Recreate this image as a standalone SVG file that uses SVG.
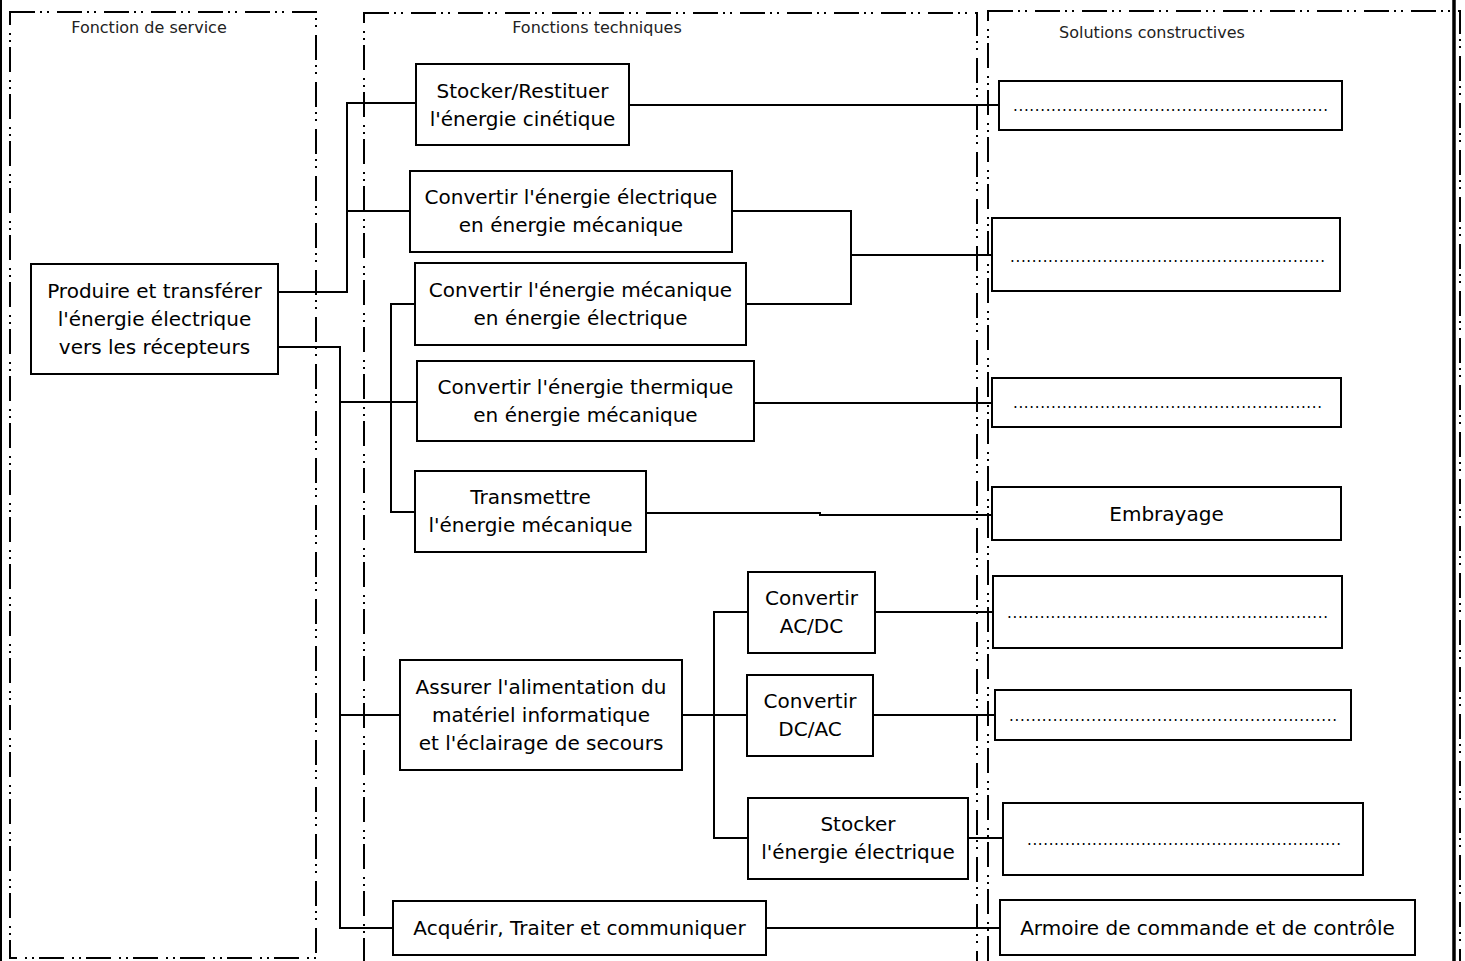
<svg xmlns="http://www.w3.org/2000/svg" width="1465" height="961" viewBox="0 0 1465 961">
  <style>
    .frame { fill: none; stroke: #000; stroke-width: 2; stroke-dasharray: 25 5 2 5 2 8; }
    .box { fill: #fff; stroke: #000; stroke-width: 2; }
    .wire { fill: none; stroke: #000; stroke-width: 2; }
    .lbl { font-family: "DejaVu Sans", Verdana, sans-serif; font-size: 20px; fill: #000; text-anchor: middle; dominant-baseline: central; }
    .head { font-family: "DejaVu Sans", Verdana, sans-serif; font-size: 16px; fill: #222; text-anchor: middle; }
    .dots { font-family: "DejaVu Sans", Verdana, sans-serif; font-size: 15px; fill: #000; }
  </style>
  <rect x="0" y="0" width="1465" height="961" fill="#fff"/>

  <!-- column frames -->
  <g id="frames">
    <rect class="frame" x="10" y="12" width="306" height="946"/>
    <rect class="frame" x="364" y="13" width="613" height="990"/>
    <rect class="frame" x="988" y="11" width="472" height="990"/>
    <line x1="1" y1="0" x2="1" y2="961" stroke="#000" stroke-width="2"/>
    <line x1="1454" y1="0" x2="1454" y2="961" stroke="#000" stroke-width="3.5"/>
    <text class="head" x="149" y="33">Fonction de service</text>
    <text class="head" x="597" y="33">Fonctions techniques</text>
    <text class="head" x="1152" y="38">Solutions constructives</text>
  </g>

  <!-- connectors -->
  <g id="connectors">
    <polyline class="wire" points="278,292 347,292 347,103 416,103"/>
    <line class="wire" x1="347" y1="211" x2="410" y2="211"/>
    <polyline class="wire" points="278,347 340,347 340,928 393,928"/>
    <line class="wire" x1="340" y1="402" x2="417" y2="402"/>
    <polyline class="wire" points="415,304 391,304 391,512 415,512"/>
    <line class="wire" x1="340" y1="715" x2="400" y2="715"/>
    <line class="wire" x1="682" y1="715" x2="747" y2="715"/>
    <polyline class="wire" points="748,612 714,612 714,838 748,838"/>
    <line class="wire" x1="629" y1="105" x2="999" y2="105"/>
    <polyline class="wire" points="732,211 851,211 851,304 746,304"/>
    <line class="wire" x1="851" y1="255" x2="992" y2="255"/>
    <line class="wire" x1="754" y1="403" x2="992" y2="403"/>
    <polyline class="wire" points="646,513 820,513 820,515 992,515"/>
    <line class="wire" x1="875" y1="612" x2="993" y2="612"/>
    <line class="wire" x1="873" y1="715" x2="995" y2="715"/>
    <line class="wire" x1="968" y1="838" x2="1003" y2="838"/>
    <line class="wire" x1="766" y1="928" x2="1000" y2="928"/>
  </g>

  <!-- service function -->
  <g id="n-produire">
    <rect class="box" x="31" y="264" width="247" height="110"/>
    <text class="lbl" x="154.5" y="291">Produire et transférer</text>
    <text class="lbl" x="154.5" y="319">l'énergie électrique</text>
    <text class="lbl" x="154.5" y="347">vers les récepteurs</text>
  </g>

  <!-- technical functions -->
  <g id="n-stocker-cinetique">
    <rect class="box" x="416" y="64" width="213" height="81"/>
    <text class="lbl" x="522.5" y="91">Stocker/Restituer</text>
    <text class="lbl" x="522.5" y="119">l'énergie cinétique</text>
  </g>
  <g id="n-conv-elec-meca">
    <rect class="box" x="410" y="171" width="322" height="81"/>
    <text class="lbl" x="571" y="197">Convertir l'énergie électrique</text>
    <text class="lbl" x="571" y="225">en énergie mécanique</text>
  </g>
  <g id="n-conv-meca-elec">
    <rect class="box" x="415" y="263" width="331" height="82"/>
    <text class="lbl" x="580.5" y="290">Convertir l'énergie mécanique</text>
    <text class="lbl" x="580.5" y="318">en énergie électrique</text>
  </g>
  <g id="n-conv-thermique">
    <rect class="box" x="417" y="361" width="337" height="80"/>
    <text class="lbl" x="585.5" y="387">Convertir l'énergie thermique</text>
    <text class="lbl" x="585.5" y="415">en énergie mécanique</text>
  </g>
  <g id="n-transmettre">
    <rect class="box" x="415" y="471" width="231" height="81"/>
    <text class="lbl" x="530.5" y="497">Transmettre</text>
    <text class="lbl" x="530.5" y="525">l'énergie mécanique</text>
  </g>
  <g id="n-assurer">
    <rect class="box" x="400" y="660" width="282" height="110"/>
    <text class="lbl" x="541" y="687">Assurer l'alimentation du</text>
    <text class="lbl" x="541" y="715">matériel informatique</text>
    <text class="lbl" x="541" y="743">et l'éclairage de secours</text>
  </g>
  <g id="n-acdc">
    <rect class="box" x="748" y="572" width="127" height="81"/>
    <text class="lbl" x="811.5" y="598">Convertir</text>
    <text class="lbl" x="811.5" y="626">AC/DC</text>
  </g>
  <g id="n-dcac">
    <rect class="box" x="747" y="675" width="126" height="81"/>
    <text class="lbl" x="810" y="701">Convertir</text>
    <text class="lbl" x="810" y="729">DC/AC</text>
  </g>
  <g id="n-stocker-elec">
    <rect class="box" x="748" y="798" width="220" height="81"/>
    <text class="lbl" x="858" y="824">Stocker</text>
    <text class="lbl" x="858" y="852">l'énergie électrique</text>
  </g>
  <g id="n-acquerir">
    <rect class="box" x="393" y="901" width="373" height="54"/>
    <text class="lbl" x="579.5" y="928">Acquérir, Traiter et communiquer</text>
  </g>

  <!-- design solutions -->
  <g id="s-1">
    <rect class="box" x="999" y="81" width="343" height="49"/>
    <text class="dots" x="1013" y="111" textLength="315" lengthAdjust="spacing">..........................................................</text>
  </g>
  <g id="s-2">
    <rect class="box" x="992" y="218" width="348" height="73"/>
    <text class="dots" x="1010" y="262" textLength="315" lengthAdjust="spacing">..........................................................</text>
  </g>
  <g id="s-3">
    <rect class="box" x="992" y="378" width="349" height="49"/>
    <text class="dots" x="1013" y="408" textLength="309" lengthAdjust="spacing">.........................................................</text>
  </g>
  <g id="s-embrayage">
    <rect class="box" x="992" y="487" width="349" height="53"/>
    <text class="lbl" x="1166.5" y="514">Embrayage</text>
  </g>
  <g id="s-4">
    <rect class="box" x="993" y="576" width="349" height="72"/>
    <text class="dots" x="1007" y="618" textLength="321" lengthAdjust="spacing">...........................................................</text>
  </g>
  <g id="s-5">
    <rect class="box" x="995" y="690" width="356" height="50"/>
    <text class="dots" x="1009" y="721" textLength="328" lengthAdjust="spacing">............................................................</text>
  </g>
  <g id="s-6">
    <rect class="box" x="1003" y="803" width="360" height="72"/>
    <text class="dots" x="1027" y="845" textLength="314" lengthAdjust="spacing">..........................................................</text>
  </g>
  <g id="s-armoire">
    <rect class="box" x="1000" y="900" width="415" height="55"/>
    <text class="lbl" x="1207.5" y="928">Armoire de commande et de contrôle</text>
  </g>
</svg>
